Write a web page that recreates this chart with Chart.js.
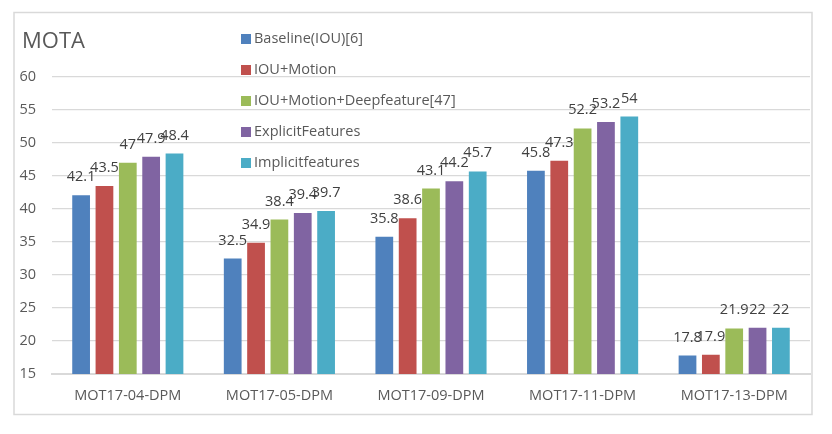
<!DOCTYPE html>
<html>
<head>
    <title>MOTA</title>
    <script src="https://cdn.jsdelivr.net/npm/chart.js@4.4.0/dist/chart.umd.min.js"></script>
    <style>
        body { margin: 0; background: #fff; }
        #wrap { position: relative; width: 832px; height: 434px; }
    </style>
</head>
<body>
    <div id="wrap">
        <canvas id="motaChart" width="832" height="434"></canvas>
    </div>
    <script type="text/javascript">
    // chart values
    var categories = ["MOT17-04-DPM", "MOT17-05-DPM", "MOT17-09-DPM", "MOT17-11-DPM", "MOT17-13-DPM"];
    var seriesNames = ["Baseline(IOU)[6]", "IOU+Motion", "IOU+Motion+Deepfeature[47]", "ExplicitFeatures", "Implicitfeatures"];
    var baseline = [42.1, 32.5, 35.8, 45.8, 17.8];
    var iouMotion = [43.5, 34.9, 38.6, 47.3, 17.9];
    var deepFeature = [47, 38.4, 43.1, 52.2, 21.9];
    var explicitFeat = [47.9, 39.4, 44.2, 53.2, 22];
    var implicitFeat = [48.4, 39.7, 45.7, 54, 22];
    var yTicks = [15, 20, 25, 30, 35, 40, 45, 50, 55, 60];

    var colors = ["#4F81BD", "#C0504D", "#9BBB59", "#8064A2", "#4BACC6"];
    var values = [baseline, iouMotion, deepFeature, explicitFeat, implicitFeat];
    var font = "'Open Sans', 'Noto Sans', sans-serif";

    var datasets = [];
    for (var i = 0; i < seriesNames.length; i++) {
        datasets.push({
            label: seriesNames[i],
            data: values[i],
            backgroundColor: colors[i],
            categoryPercentage: 0.77,
            barPercentage: 0.76
        });
    }

    // frame, title, legend and value labels drawn by hand
    var decorations = {
        id: 'decorations',
        beforeDraw: function(chart) {
            var ctx = chart.ctx;
            ctx.save();
            ctx.fillStyle = "#fff";
            ctx.fillRect(0, 0, chart.width, chart.height);
            ctx.strokeStyle = "#d9d9d9";
            ctx.lineWidth = 1.5;
            ctx.strokeRect(14, 12.5, 798, 402);
            ctx.restore();
        },
        afterDatasetsDraw: function(chart) {
            var ctx = chart.ctx;
            ctx.save();
            ctx.font = "14.5px " + font;
            ctx.fillStyle = "#404040";
            ctx.textAlign = "center";
            ctx.textBaseline = "alphabetic";
            chart.data.datasets.forEach(function(ds, di) {
                var meta = chart.getDatasetMeta(di);
                meta.data.forEach(function(bar, j) {
                    ctx.fillText(String(ds.data[j]), bar.x, bar.y - 14);
                });
            });
            ctx.restore();
        },
        afterDraw: function(chart) {
            var ctx = chart.ctx;
            ctx.save();
            ctx.fillStyle = "#595959";
            ctx.font = "22px " + font;
            ctx.textBaseline = "middle";
            ctx.textAlign = "left";
            ctx.fillText("MOTA", 22, 42);
            ctx.font = "14.5px " + font;
            chart.data.datasets.forEach(function(ds, di) {
                var y = 39 + di * 31;
                ctx.fillStyle = ds.backgroundColor;
                ctx.fillRect(241, y - 5, 10, 10);
                ctx.fillStyle = "#595959";
                ctx.fillText(ds.label, 254, y);
            });
            ctx.restore();
        }
    };

    new Chart(document.getElementById("motaChart"), {
        type: 'bar',
        data: { labels: categories, datasets: datasets },
        options: {
            responsive: false,
            animation: false,
            layout: { padding: { left: 14, right: 22, top: 77, bottom: 0 } },
            plugins: {
                legend: { display: false },
                title: { display: false },
                tooltip: { enabled: false }
            },
            scales: {
                x: {
                    grid: { display: false, drawTicks: false },
                    border: { display: true, color: "#d9d9d9", width: 2 },
                    ticks: { color: "#595959", font: { family: font, size: 14.5 }, padding: 13 },
                    afterFit: function(axis) { axis.height = 60; }
                },
                y: {
                    min: 15,
                    max: 60,
                    afterBuildTicks: function(axis) {
                        axis.ticks = yTicks.map(function(v) { return { value: v }; });
                    },
                    grid: { color: "#d9d9d9", lineWidth: 1.3, drawTicks: false },
                    border: { display: false },
                    ticks: { color: "#595959", font: { family: font, size: 14.5 }, padding: 16 },
                    afterFit: function(axis) { axis.width = 38; }
                }
            }
        },
        plugins: [decorations]
    });
    </script>
</body>
</html>
